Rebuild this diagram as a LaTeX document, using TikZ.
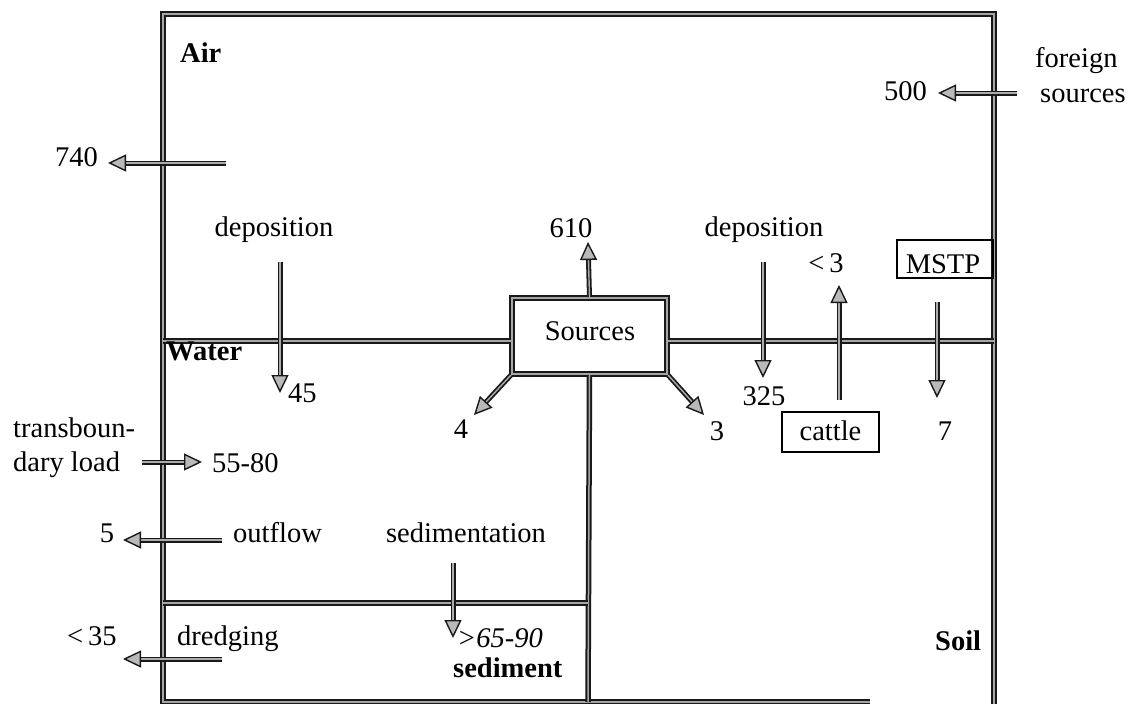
\documentclass[tikz,border=0pt]{standalone}
\usepackage{fontspec}
\setmainfont{Liberation Serif}
\usetikzlibrary{arrows.meta}
\tikzset{
  wall/.style={draw=black!90, line width=2pt, double=gray!70, double distance=1.5pt},
  flow/.style={draw=black!90, line width=1.8pt, double=gray!65, double distance=1.4pt,
    -{Triangle[length=18pt,width=17pt,fill=gray!55,color=black!90,line width=1.4pt]}},
  lbl/.style={inner sep=0pt, font=\fontsize{28.5}{32}\selectfont},
  bl/.style={lbl, font=\fontsize{28.5}{32}\selectfont\bfseries},
  tbox/.style={draw=black, line width=2.2pt, inner sep=0pt}
}
\begin{document}
\begin{tikzpicture}[x=1pt,y=-1pt]
\useasboundingbox (0,0) rectangle (1138,704);
% compartments
\coordinate (tl) at (163,14);
\coordinate (tr) at (994,14);
\coordinate (br) at (994,704);
\coordinate (bl0) at (163,702);
\coordinate (bm) at (870,702);
\coordinate (wl) at (163,341);
\coordinate (wr) at (994,341);
\coordinate (sl) at (163,603);
\coordinate (sr) at (588,603);
\coordinate (sb) at (588,702);
\draw[wall] (bm) -- (bl0) -- (tl) -- (tr) -- (br);
\node[wall, minimum width=155pt, minimum height=76pt, inner sep=0pt] (src) at (589.5,336) {};
\node[lbl, anchor=base] (srct) at (590,340) {Sources};
\draw[wall] (wl) -- (src.west |- wl);
\draw[wall] (src.east |- wr) -- (wr);
\draw[wall] (src.south) -- (sb);
\draw[wall] (sl) -- (sr);
% boxes
\node[tbox, minimum width=96pt, minimum height=38pt] (mstp) at (945,259) {};
\node[lbl, anchor=base] (mstpt) at (943,273) {MSTP};
\node[tbox, minimum width=97pt, minimum height=40pt] (cattle) at (830.5,432) {};
\node[lbl, anchor=base] (cattlet) at (830.5,440) {cattle};
% labels
\node[bl, anchor=base west] (air) at (180,62) {Air};
\node[bl, anchor=base west] (water) at (166,360) {Water};
\node[bl, anchor=base west] (sed) at (453,677) {sediment};
\node[bl, anchor=base west] (soil) at (935,650) {Soil};
\node[lbl, anchor=base east] (n740) at (98,166) {740};
\node[lbl, anchor=base] (depl) at (274,236) {deposition};
\node[lbl, anchor=base] (n610) at (571,237) {610};
\node[lbl, anchor=base] (depr) at (764,236) {deposition};
\node[lbl, anchor=base] (lt3) at (826,272) {<\,3};
\node[lbl, anchor=base east] (n500) at (927,100) {500};
\node[lbl, anchor=base west] (foreign) at (1035,67) {foreign};
\node[lbl, anchor=base west] (fsrc) at (1040,102) {sources};
\node[lbl, anchor=base west] (n45) at (288,402) {45};
\node[lbl, anchor=base] (n4) at (461,438) {4};
\node[lbl, anchor=base] (n325) at (764,405) {325};
\node[lbl, anchor=base] (n3) at (717,440) {3};
\node[lbl, anchor=base] (n7) at (945,440) {7};
\node[lbl, anchor=base west] (tb1) at (13,437) {transboun-};
\node[lbl, anchor=base west] (tb2) at (13,471) {dary load};
\node[lbl, anchor=base west] (n5580) at (212,472) {55-80};
\node[lbl, anchor=base] (n5) at (107,542) {5};
\node[lbl, anchor=base west] (outf) at (233,542) {outflow};
\node[lbl, anchor=base west] (lt35) at (67,645) {<\,35};
\node[lbl, anchor=base west] (dredg) at (177,645) {dredging};
\node[lbl, anchor=base] (sedim) at (466,542) {sedimentation};
\node[lbl, anchor=base west] (n6590) at (457,647) {\itshape >65-90};
% arrow end points
\coordinate (a740s) at (226,163);  \coordinate (a740e) at (108,163);
\coordinate (a500s) at (1017,93);  \coordinate (a500e) at (938,93);
\coordinate (adls) at (280,262);   \coordinate (adle) at (280,393);
\coordinate (adrs) at (763,262);   \coordinate (adre) at (763,378);
\coordinate (alt3s) at (839,400);  \coordinate (alt3e) at (839,285);
\coordinate (amss) at (937,302);   \coordinate (amse) at (937,398);
\coordinate (atbs) at (142,462);   \coordinate (atbe) at (202,462);
\coordinate (aofs) at (222,540);   \coordinate (aofe) at (123,540);
\coordinate (adgs) at (222,659);   \coordinate (adge) at (123,659);
\coordinate (asds) at (453,563);   \coordinate (asde) at (453,638);
\coordinate (a610) at (588,242);
\coordinate (a4) at (474,415);
\coordinate (a3) at (704,415);
% arrows
\draw[flow] (a740s) -- (a740e);
\draw[flow] (a500s) -- (a500e);
\draw[flow] (adls) -- (adle);
\draw[flow] (adrs) -- (adre);
\draw[flow] (alt3s) -- (alt3e);
\draw[flow] (amss) -- (amse);
\draw[flow] (atbs) -- (atbe);
\draw[flow] (aofs) -- (aofe);
\draw[flow] (adgs) -- (adge);
\draw[flow] (asds) -- (asde);
\draw[flow] (src.north) -- (a610);
\draw[flow] (src.south west) -- (a4);
\draw[flow] (src.south east) -- (a3);
\end{tikzpicture}
\end{document}
